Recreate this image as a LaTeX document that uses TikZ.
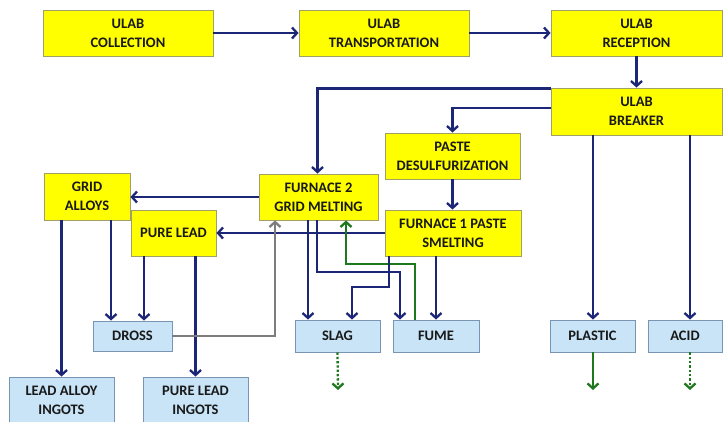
\documentclass[tikz,border=0pt]{standalone}
\usepackage{fontspec}
\setmainfont{Carlito}
\usetikzlibrary{arrows.meta}
\definecolor{navy}{RGB}{28,38,118}
\definecolor{ybox}{RGB}{255,255,0}
\definecolor{yborder}{RGB}{160,160,100}
\definecolor{bfill}{RGB}{200,228,246}
\definecolor{bborder}{RGB}{120,150,180}
\definecolor{gline}{RGB}{125,125,125}
\definecolor{grn}{RGB}{30,120,30}
\definecolor{txt}{RGB}{25,25,25}
\tikzset{
  yb/.style={draw=yborder, fill=ybox, line width=0.9pt, inner sep=0pt, align=center,
    font=\fontsize{14.5}{19}\selectfont\bfseries, text=txt},
  bb/.style={draw=bborder, fill=bfill, line width=0.9pt, inner sep=0pt, align=center,
    font=\fontsize{14.5}{19}\selectfont\bfseries, text=txt},
  tip/.style={-{Straight Barb[length=5pt,width=11pt]}},
  flow/.style={draw=navy, line width=2.3pt, tip},
  grayflow/.style={draw=gline, line width=2.3pt, tip},
  greenflow/.style={draw=grn, line width=2.3pt, tip},
  greendot/.style={draw=grn, line width=2.3pt, dotted, tip},
}
\begin{document}
\begin{tikzpicture}[x=1pt,y=-1pt]
\useasboundingbox (0,0) rectangle (723,421);
\clip (0,0) rectangle (723,421);
\fill[white] (0,0) rectangle (723,421);
% yellow boxes
\node[yb, minimum width=170pt, minimum height=46pt] (col) at (128,33) {ULAB\\COLLECTION};
\node[yb, minimum width=170pt, minimum height=46pt] (tra) at (384,33) {ULAB\\TRANSPORTATION};
\node[yb, minimum width=171pt, minimum height=46pt] (rec) at (636.5,33) {ULAB\\RECEPTION};
\node[yb, minimum width=171pt, minimum height=47pt] (brk) at (636.5,111.5) {ULAB\\BREAKER};
\node[yb, minimum width=135pt, minimum height=46pt] (des) at (452.5,156) {PASTE\\DESULFURIZATION};
\node[yb, minimum width=119pt, minimum height=46pt] (f2) at (318.5,197) {FURNACE 2\\GRID MELTING};
\node[yb, minimum width=136pt, minimum height=46pt] (f1) at (453,233) {FURNACE 1 PASTE\\SMELTING};
\node[yb, minimum width=86pt, minimum height=47pt] (ga) at (87,196.5) {GRID\\ALLOYS};
\node[yb, minimum width=85pt, minimum height=46pt] (pl) at (173.5,233) {PURE LEAD};
% blue boxes
\node[bb, minimum width=79pt, minimum height=30pt] (dross) at (132.5,336) {DROSS};
\node[bb, minimum width=85pt, minimum height=32pt] (slag) at (337.5,336) {SLAG};
\node[bb, minimum width=86pt, minimum height=32pt] (fume) at (436,336) {FUME};
\node[bb, minimum width=85pt, minimum height=32pt] (plastic) at (592.5,336) {PLASTIC};
\node[bb, minimum width=74pt, minimum height=32pt] (acid) at (685,336) {ACID};
\node[bb, minimum width=105pt, minimum height=46pt] (lai) at (61.5,400) {LEAD ALLOY\\INGOTS};
\node[bb, minimum width=105pt, minimum height=46pt] (pli) at (195.5,400) {PURE LEAD\\INGOTS};
% top chain
\draw[flow] (col.east) -- (tra.west);
\draw[flow] (tra.east) -- (rec.west);
\draw[flow] (rec.south) -- (brk.north);
% breaker outputs
\draw[flow] ([yshift=-1pt]brk.north west) -| ([xshift=-1pt]f2.north);
\draw[flow] ([yshift=3.5pt]brk.west) -| (des.north);
\draw[flow] (des.south) -- (des.south |- f1.north);
\draw[flow] ([xshift=0.5pt]plastic.north |- brk.south) -- ([xshift=0.5pt]plastic.north);
\draw[flow] ([xshift=5pt]acid.north |- brk.south) -- ([xshift=5pt]acid.north);
% furnace outputs
\draw[flow] (f2.west) -- (f2.west -| ga.east);
\draw[flow] (f1.west) -- (f1.west -| pl.east);
\draw[flow] (ga.south -| lai.north) -- (lai.north);
\draw[flow] ([xshift=24pt]ga.south) -- ([xshift=24pt]ga.south |- dross.north);
\draw[flow] ([xshift=-29.5pt]pl.south) -- ([xshift=-29.5pt]pl.south |- dross.north);
\draw[flow] (pl.south -| pli.north) -- (pli.north);
\draw[grayflow] (dross.east) -| ([xshift=-43.5pt]f2.south);
\draw[flow] ([xshift=-10.5pt]f2.south) -- ([xshift=-10.5pt]f2.south |- slag.north);
\coordinate (k1) at (317,272);
\draw[flow] ([xshift=-1.5pt]f2.south) -- (k1) -| ([xshift=-36pt]fume.north);
\coordinate (k2) at (415,264);
\draw[greenflow] ([xshift=-21pt]fume.north) -- (k2) -| ([xshift=27.5pt]f2.south);
\coordinate (k3) at (389,287);
\draw[flow] ([xshift=-64pt]f1.south) -- (k3) -| ([xshift=14.5pt]slag.north);
\draw[flow] (f1.south -| fume.north) -- (fume.north);
% final outputs
\coordinate (e1) at (338,390);
\coordinate (e2) at (593,390);
\coordinate (e3) at (690,390);
\draw[greendot] (slag.south) -- (e1);
\draw[greenflow] ([xshift=0.5pt]plastic.south) -- (e2);
\draw[greendot] ([xshift=5pt]acid.south) -- (e3);
\end{tikzpicture}
\end{document}
